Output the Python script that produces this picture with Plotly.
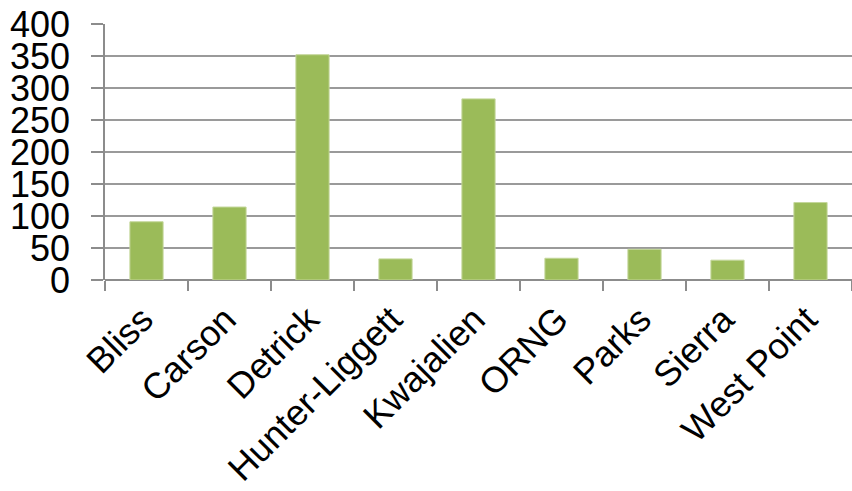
import plotly.graph_objects as go

categories = ["Bliss", "Carson", "Detrick", "Hunter-Liggett", "Kwajalien",
              "ORNG", "Parks", "Sierra", "West Point"]
values = [91, 114, 352, 33, 283, 34, 48, 31, 121]
y_ticks = [0, 50, 100, 150, 200, 250, 300, 350, 400]

fig = go.Figure(go.Bar(
    x=categories, y=values,
    marker=dict(color="#9BBB59", line=dict(color="#C4D79B", width=1)),
))

fig.update_layout(
    width=852, height=491,
    margin=dict(l=105, r=0, t=24, b=211),
    paper_bgcolor="white", plot_bgcolor="white",
    bargap=0.6,
    showlegend=False,
    font=dict(family="Liberation Sans, Arial", size=36, color="black"),
)
fig.update_xaxes(
    type="category", tickangle=-45, tickson="boundaries", automargin=False,
    ticks="outside", ticklen=10, tickwidth=1.5, tickcolor="#8c8c8c",
    showline=False, showgrid=False, zeroline=False,
    tickfont=dict(size=36), ticklabelstandoff=10, ticklabelshift=-4,
)
fig.update_yaxes(
    range=[0, 400], tickvals=y_ticks, ticktext=[str(v) for v in y_ticks],
    automargin=False,
    ticks="outside", ticklen=12, tickwidth=1.5, tickcolor="#8c8c8c",
    showline=True, linecolor="#8c8c8c", linewidth=1.5,
    showgrid=True, gridcolor="#9a9a9a", gridwidth=1.5,
    zeroline=True, zerolinecolor="#8c8c8c", zerolinewidth=1.5,
    tickfont=dict(size=36), ticklabelstandoff=14,
)

fig.write_html("out.html")
